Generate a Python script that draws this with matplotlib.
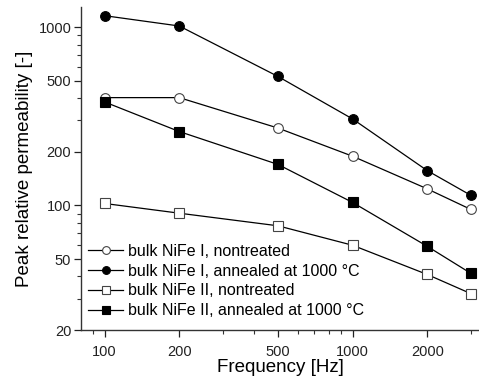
import matplotlib
matplotlib.use("Agg")
import matplotlib.pyplot as plt
from matplotlib.ticker import FixedLocator, NullFormatter, FixedFormatter

plt.rcParams['font.family'] = ['Liberation Sans', 'DejaVu Sans']

freq = [100, 200, 500, 1000, 2000, 3000]
nife1_nontreated = [403, 403, 272, 189, 124, 95]
nife1_annealed = [1162, 1017, 530, 306, 157, 114]
nife2_nontreated = [102.6, 90.5, 76.9, 59.8, 41, 32]
nife2_annealed = [381, 260, 170, 104, 59, 41.6]

labels = ["bulk NiFe I, nontreated",
          "bulk NiFe I, annealed at 1000 \u00b0C",
          "bulk NiFe II, nontreated",
          "bulk NiFe II, annealed at 1000 \u00b0C"]

fig = plt.figure(figsize=(4.79, 3.83), dpi=100)
ax = fig.add_axes([81/479, 1 - 330/383, 1 - 81/479, (330 - 7)/383])

styles = [
    (nife1_nontreated, 'o', 'white'),
    (nife1_annealed, 'o', 'black'),
    (nife2_nontreated, 's', 'white'),
    (nife2_annealed, 's', 'black'),
]
for (vals, m, fc), lab in zip(styles, labels):
    ax.plot(freq, vals, color='black', lw=0.9, marker=m, markersize=7,
            markerfacecolor=fc, markeredgecolor='black' if fc == 'black' else '#444444',
            markeredgewidth=0.8, label=lab, clip_on=False, zorder=3)

ax.set_xscale('log')
ax.set_yscale('log')
ax.set_xlim(80.3, 3236)
ax.set_ylim(20, 1300)

xmajor = [100, 200, 500, 1000, 2000]
xminor = [90, 300, 400, 600, 700, 800, 900, 3000]
ax.xaxis.set_major_locator(FixedLocator(xmajor))
ax.xaxis.set_major_formatter(FixedFormatter([str(v) for v in xmajor]))
ax.xaxis.set_minor_locator(FixedLocator(xminor))
ax.xaxis.set_minor_formatter(NullFormatter())

ymajor = [20, 50, 100, 200, 500, 1000]
yminor = [30, 40, 60, 70, 80, 90, 300, 400, 600, 700, 800, 900]
ax.yaxis.set_major_locator(FixedLocator(ymajor))
ax.yaxis.set_major_formatter(FixedFormatter([str(v) for v in ymajor]))
ax.yaxis.set_minor_locator(FixedLocator(yminor))
ax.yaxis.set_minor_formatter(NullFormatter())

for s in ['top', 'right']:
    ax.spines[s].set_visible(False)
for s in ['left', 'bottom']:
    ax.spines[s].set_linewidth(1.0)
    ax.spines[s].set_color('#333333')

ax.tick_params(which='major', direction='out', length=5, width=0.9,
               labelsize=10.5, colors='#222222')
ax.tick_params(axis='x', which='major', pad=6)
ax.tick_params(axis='y', which='major', pad=2)
ax.tick_params(which='minor', direction='out', length=3, width=0.8, colors='#333333')

ax.set_xlabel("Frequency [Hz]", fontsize=13.5, labelpad=0)
ax.set_ylabel("Peak relative permeability [-]", fontsize=13.5, labelpad=4)

leg = ax.legend(loc='center left', bbox_to_anchor=(88/479, 1 - 281/383),
                bbox_transform=fig.transFigure, frameon=False, fontsize=11.5,
                handlelength=2.2, handletextpad=0.3, labelspacing=0.3,
                borderpad=0, borderaxespad=0, markerscale=0.8)

fig.savefig("out.png", dpi=100)
